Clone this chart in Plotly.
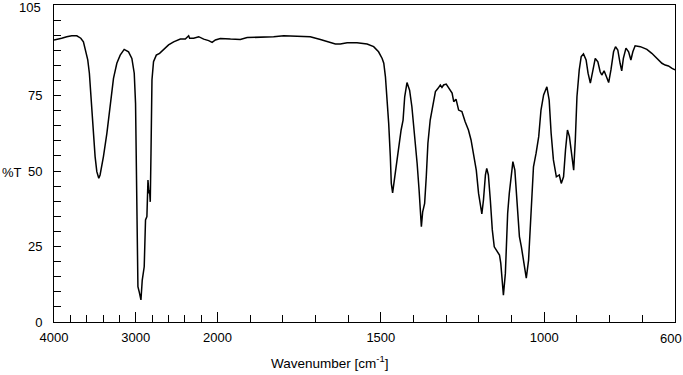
import plotly.graph_objects as go

# Wavenumber (cm-1) and %T
wavenumber = [
    4000, 3967, 3906, 3844, 3783, 3721, 3672, 3640, 3620, 3599, 3587, 3567, 3550, 3534, 3518, 3497,
    3476, 3452, 3436, 3395, 3353, 3313, 3272, 3231, 3190, 3141, 3088, 3047, 3018, 3002, 2985, 2973,
    2957, 2936, 2920, 2896, 2880, 2863, 2850, 2838, 2831, 2822, 2813, 2801, 2782, 2748, 2708, 2638,
    2598, 2536, 2454, 2393, 2352, 2340, 2291, 2229, 2168, 2107, 2065, 2025, 1991, 1960, 1930, 1909,
    1869, 1828, 1797, 1756, 1716, 1685, 1654, 1639, 1624, 1603, 1573, 1542, 1522, 1507, 1496, 1491,
    1486, 1481, 1476, 1471, 1468, 1464, 1459, 1453, 1446, 1438, 1432, 1427, 1420, 1412, 1405, 1398,
    1389, 1383, 1379, 1376, 1372, 1366, 1361, 1356, 1349, 1340, 1333, 1325, 1318, 1313, 1308, 1300,
    1291, 1282, 1277, 1270, 1262, 1252, 1242, 1232, 1224, 1216, 1208, 1201, 1196, 1191, 1186, 1180,
    1176, 1171, 1165, 1159, 1153, 1145, 1137, 1133, 1129, 1125, 1119, 1116, 1112, 1107, 1102, 1096,
    1090, 1083, 1076, 1070, 1063, 1055, 1048, 1041, 1033, 1025, 1017, 1010, 1002, 992, 985, 979,
    972, 963, 954, 948, 941, 935, 929, 923, 915, 910, 905, 900, 893, 887, 880, 872,
    866, 859, 852, 844, 836, 829, 824, 817, 810, 803, 796, 788, 782, 775, 768, 763,
    758, 750, 742, 735, 729, 722, 706, 686, 671, 655, 640, 630, 620, 609, 600,
]
transmittance = [
    93.4, 93.7, 94.0, 94.5, 94.8, 94.8, 94.0, 92.8, 90.7, 88.4, 86.8, 82.4, 75.8, 68.0, 61.4, 54.8,
    49.8, 47.6, 48.7, 54.8, 62.5, 72.4, 80.7, 85.7, 88.4, 90.3, 89.5, 87.3, 82.4, 72.4, 44.8, 11.7,
    10.0, 7.3, 13.9, 18.3, 33.8, 34.9, 47.0, 42.6, 43.7, 39.8, 55.9, 80.2, 86.2, 88.4, 89.0, 90.9,
    91.8, 92.8, 93.7, 93.7, 94.8, 94.0, 94.0, 94.5, 93.7, 93.2, 92.6, 93.4, 93.9, 93.7, 93.6, 94.2,
    94.3, 94.5, 94.8, 94.7, 94.5, 93.6, 92.5, 92.1, 92.1, 92.5, 92.5, 92.1, 91.2, 89.5, 87.3, 85.7,
    81.3, 74.6, 65.8, 54.8, 45.9, 42.8, 47.0, 52.6, 57.0, 63.6, 66.9, 74.6, 79.3, 76.8, 71.3, 63.6,
    52.6, 43.7, 34.9, 31.6, 36.5, 39.3, 48.1, 59.2, 66.9, 73.0, 76.3, 77.4, 78.5, 77.7, 78.5, 78.8,
    77.4, 75.8, 73.0, 73.8, 70.2, 69.7, 66.3, 63.6, 60.3, 54.8, 50.3, 42.6, 38.2, 35.8, 40.4, 48.7,
    50.9, 48.7, 40.4, 30.5, 24.9, 23.3, 22.2, 19.4, 13.9, 8.9, 16.1, 24.9, 36.0, 42.6, 47.0, 53.1,
    50.3, 40.4, 28.3, 24.9, 19.4, 14.5, 20.5, 36.0, 51.4, 55.9, 61.4, 70.2, 75.2, 77.9, 73.5, 62.5,
    53.7, 48.1, 48.7, 45.9, 48.1, 57.0, 63.6, 61.4, 53.7, 50.3, 60.3, 74.6, 83.5, 87.9, 88.8, 86.8,
    82.4, 79.1, 82.9, 87.3, 86.2, 82.9, 81.8, 83.2, 81.3, 79.3, 83.5, 89.5, 91.2, 90.1, 85.7, 83.2,
    87.3, 90.7, 89.5, 86.8, 89.5, 91.5, 91.2, 90.3, 89.0, 87.3, 85.7, 85.1, 84.8, 84.0, 83.5,
]

x_tick_labels = [4000, 3000, 2000, 1500, 1000, 600]
x_minor_high = [3800, 3600, 3400, 3200, 2800, 2600, 2400, 2200]
x_minor_low = [1900, 1800, 1700, 1600, 1400, 1300, 1200, 1100, 900, 800, 700]
y_tick_labels = [0, 25, 50, 75, 105]
y_minor = list(range(5, 101, 5))

BREAK = 2000
SCALE = 4  # above 2000 cm-1 the axis is compressed 4x


def to_axis(w):
    return w if w <= BREAK else BREAK + (w - BREAK) / SCALE


xd = [to_axis(w) for w in wavenumber]

fig = go.Figure()
fig.add_trace(go.Scatter(x=xd, y=transmittance, mode="lines",
                         line=dict(color="black", width=1.5), showlegend=False))

font = dict(family="Liberation Sans, Arial, sans-serif", size=13, color="black")

# edge labels (600 at right, 105 at top) are drawn slightly inset as annotations
x_ticktext = [str(v) for v in x_tick_labels[:-1]] + [""]
y_ticktext = [str(v) for v in y_tick_labels[:-1]] + [""]

fig.update_layout(
    width=683, height=375,
    margin=dict(l=54, r=8, t=5, b=53),
    paper_bgcolor="white", plot_bgcolor="white",
    font=font,
    xaxis=dict(
        range=[to_axis(4000), to_axis(600)],
        tickmode="array",
        tickvals=[to_axis(v) for v in x_tick_labels],
        ticktext=x_ticktext,
        ticks="inside", ticklen=10, tickwidth=1, tickcolor="black",
        minor=dict(tickmode="array",
                   tickvals=[to_axis(v) for v in x_minor_high + x_minor_low],
                   ticks="inside", ticklen=7, tickwidth=1, tickcolor="black",
                   showgrid=False),
        showline=True, linecolor="black", linewidth=1, mirror=True,
        showgrid=False, zeroline=False, ticklabelstandoff=3,
        automargin=False, ticklabeloverflow="allow",
    ),
    yaxis=dict(
        range=[0, 105],
        tickmode="array", tickvals=y_tick_labels,
        ticktext=y_ticktext,
        ticks="inside", ticklen=7, tickwidth=1, tickcolor="black",
        minor=dict(tickmode="array", tickvals=y_minor, ticks="inside",
                   ticklen=7, tickwidth=1, tickcolor="black", showgrid=False),
        showline=True, linecolor="black", linewidth=1, mirror=True,
        showgrid=False, zeroline=False, ticklabelstandoff=8,
        automargin=False, ticklabeloverflow="allow",
    ),
    annotations=[
        dict(text="%T", xref="paper", yref="paper", x=-0.068, y=0.473,
             showarrow=False, font=font, xanchor="center", yanchor="middle"),
        dict(text="Wavenumber [cm<sup>-1</sup>]", xref="paper", yref="paper",
             x=0.443, y=-0.126, showarrow=False,
             font=dict(family=font["family"], size=13.5, color="black"),
             xanchor="center", yanchor="middle"),
        dict(text=str(x_tick_labels[-1]), xref="paper", yref="paper",
             x=0.9936, y=-0.0505, showarrow=False, font=font,
             xanchor="center", yanchor="middle"),
        dict(text=str(y_tick_labels[-1]), xref="paper", yref="paper",
             x=-0.0177, y=0.9935, showarrow=False, font=font,
             xanchor="right", yanchor="middle"),
    ],
)

# the page's default 8px body margin would shift the fixed-size figure
fig.write_html("out.html", config={"displayModeBar": False},
               post_script="document.body.style.margin='0';")
